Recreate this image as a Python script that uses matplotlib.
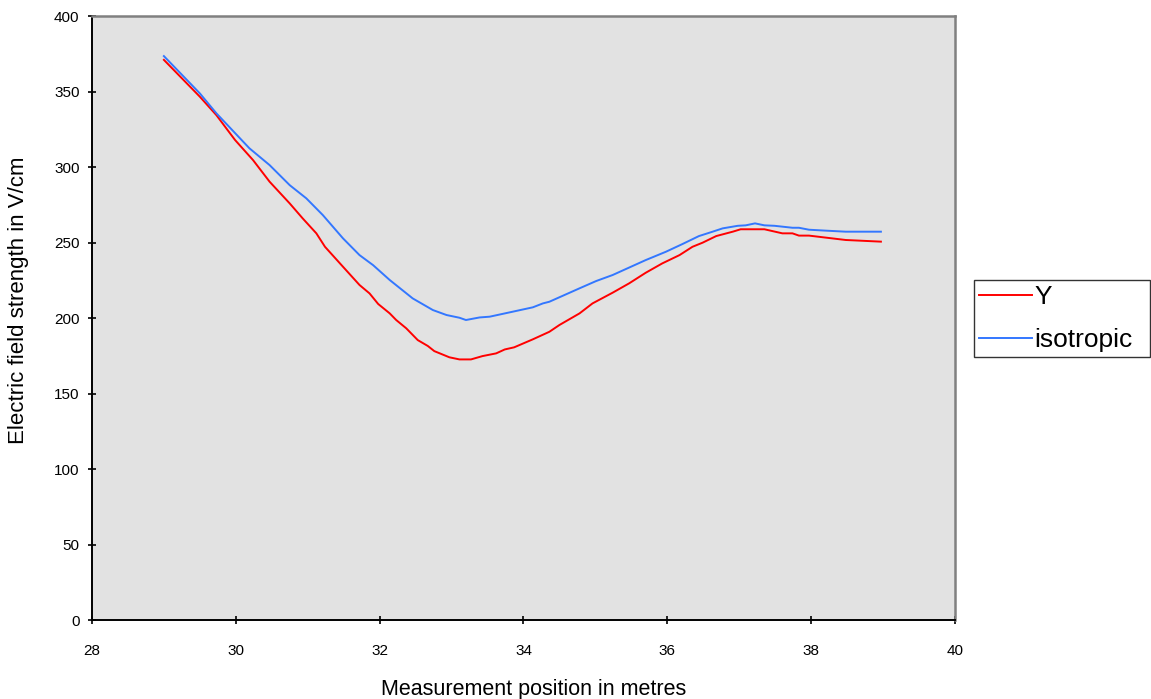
import matplotlib
matplotlib.use("Agg")
import matplotlib.pyplot as plt

# ---- data ----
y_x = [29.0, 29.5, 29.73, 29.99, 30.24, 30.47, 30.75, 30.93, 31.12, 31.24, 31.49, 31.72,
       31.86, 31.98, 32.14, 32.23, 32.37, 32.53, 32.67, 32.76, 32.97, 33.11, 33.27, 33.43,
       33.62, 33.74, 33.87, 34.13, 34.36, 34.5, 34.78, 34.96, 35.24, 35.47, 35.7, 35.93,
       36.17, 36.35, 36.49, 36.68, 36.91, 37.02, 37.35, 37.6, 37.74, 37.83, 37.97, 38.48, 38.97]
y_vals = [371, 346.6, 334.4, 317.9, 304.6, 290.3, 275.9, 266, 256.1, 247.2, 234, 221.9,
          216.3, 209.3, 203.1, 198.7, 193.2, 185.4, 181.5, 178.1, 174, 172.6, 172.6, 174.8,
          176.6, 179.2, 180.6, 185.9, 190.9, 195.4, 203.1, 209.7, 216.8, 223, 230, 236.2,
          241.7, 247.2, 249.9, 254.3, 257.2, 258.8, 258.8, 256.1, 256.1, 254.6, 254.6, 251.7, 250.6]

iso_x = [29.0, 29.5, 29.73, 30.19, 30.47, 30.75, 30.98, 31.21, 31.49, 31.72, 31.91, 32.14,
         32.46, 32.74, 32.93, 33.11, 33.2, 33.39, 33.53, 33.85, 34.13, 34.27, 34.36, 34.78,
         35.01, 35.24, 35.7, 35.98, 36.21, 36.44, 36.63, 36.77, 36.98, 37.09, 37.22, 37.35,
         37.49, 37.74, 37.83, 37.97, 38.2, 38.48, 38.97]
iso_vals = [373.5, 348.8, 335.6, 312.4, 301.3, 288, 279.3, 268.2, 252.8, 241.7, 235, 225.2,
            213, 205.3, 202, 200.2, 198.7, 200.4, 200.9, 204.2, 207.1, 209.7, 210.8, 219.7,
            224.5, 228.5, 238.4, 243.9, 249, 254.3, 257.2, 259.4, 261.1, 261.4, 262.7, 261.4,
            261.1, 259.8, 259.8, 258.5, 257.9, 257.2, 257.2]

x_ticks = [28, 30, 32, 34, 36, 38, 40]
y_ticks = [0, 50, 100, 150, 200, 250, 300, 350, 400]
series_names = ["Y", "isotropic"]

plt.rcParams['font.family'] = ['Liberation Sans', 'DejaVu Sans']

fig = plt.figure(figsize=(11.51, 6.99), dpi=100)
ax = fig.add_axes([0.0799, 0.113, 0.7498, 0.864])
ax.set_facecolor('#e2e2e2')

ax.plot(y_x, y_vals, color='#ff0000', lw=1.4, label=series_names[0])
ax.plot(iso_x, iso_vals, color='#3377ff', lw=1.4, label=series_names[1])

ax.set_xlim(28, 40)
ax.set_ylim(0, 400)
ax.set_xticks(x_ticks)
ax.set_yticks(y_ticks)
ax.tick_params(direction='inout', length=6, width=1.2, labelsize=11, colors='black')
ax.tick_params(axis='x', pad=14)
ax.tick_params(axis='y', pad=6)

for s in ['left', 'bottom']:
    ax.spines[s].set_color('black')
    ax.spines[s].set_linewidth(1.4)
for s in ['top', 'right']:
    ax.spines[s].set_color('#808080')
    ax.spines[s].set_linewidth(1.8)

ax.set_xlabel('Measurement position in metres', fontsize=15.5)
ax.set_ylabel('Electric field strength in V/cm', fontsize=16)
ax.xaxis.set_label_coords(0.512, -0.097)
ax.yaxis.set_label_coords(-0.073, 0.53)

leg = fig.legend(loc='lower left', bbox_to_anchor=(0.846, 0.489, 0.153, 0.117),
                 mode='expand', fontsize=19, frameon=True, fancybox=False,
                 handlelength=2.0, handletextpad=0.1, borderpad=0.2,
                 labelspacing=0.7, borderaxespad=0)
leg.get_frame().set_edgecolor('black')
leg.get_frame().set_linewidth(1.0)

fig.savefig('out.png', dpi=100)
